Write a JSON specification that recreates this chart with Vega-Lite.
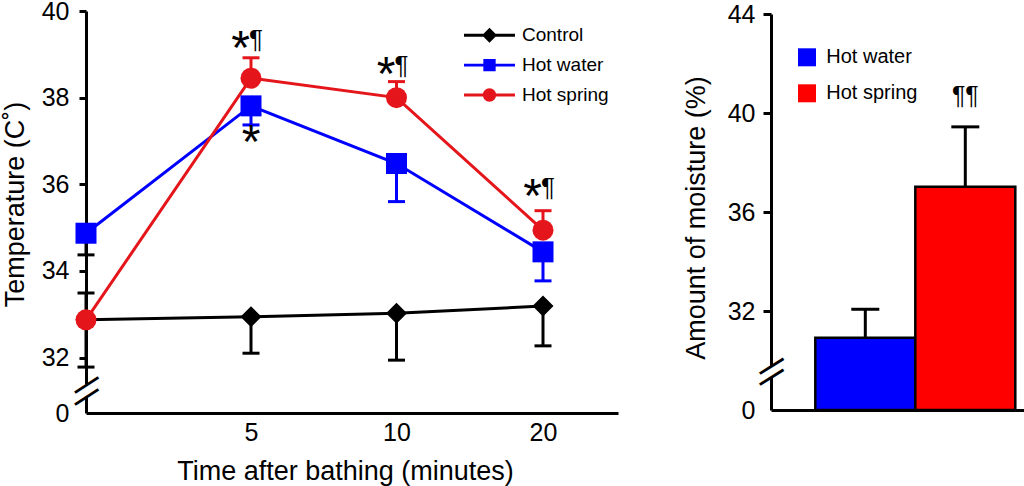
{
  "$schema": "https://vega.github.io/schema/vega-lite/v6.json",
  "autosize": {"type": "none"},
  "padding": {"left": 86, "top": 11, "right": 938, "bottom": 475},
  "background": "white",
  "datasets": {
    "temp": [
      {"group": "Control", "minute": 0, "temp": 32.87, "err": 31.78},
      {"group": "Control", "minute": 5, "temp": 32.94, "err": 32.10},
      {"group": "Control", "minute": 10, "temp": 33.02, "err": 31.94},
      {"group": "Control", "minute": 20, "temp": 33.19, "err": 32.27},
      {"group": "Hot water", "minute": 0, "temp": 34.87, "err": 34.37},
      {"group": "Hot water", "minute": 5, "temp": 37.81, "err": 37.37},
      {"group": "Hot water", "minute": 10, "temp": 36.48, "err": 35.60},
      {"group": "Hot water", "minute": 20, "temp": 34.44, "err": 33.77},
      {"group": "Hot spring", "minute": 0, "temp": 32.87, "err": 33.49},
      {"group": "Hot spring", "minute": 5, "temp": 38.45, "err": 38.92},
      {"group": "Hot spring", "minute": 10, "temp": 38.00, "err": 38.37},
      {"group": "Hot spring", "minute": 20, "temp": 34.94, "err": 35.39}
    ],
    "temp_notes": [
      {"minute": 5, "temp": 39.63, "star": "*", "para": "¶"},
      {"minute": 10, "temp": 39.02, "star": "*", "para": "¶"},
      {"minute": 20, "temp": 36.21, "star": "*", "para": "¶"},
      {"minute": 5, "temp": 37.45, "star": "*", "para": null}
    ],
    "moisture": [
      {"group": "Hot water", "moist": 30.92, "err": 32.07},
      {"group": "Hot spring", "moist": 37.02, "err": 39.44}
    ],
    "moisture_notes": [
      {"group": "Hot spring", "moist": 41.17, "label": "¶¶"}
    ]
  },
  "config": {
    "font": "Liberation Sans",
    "view": {"stroke": null},
    "axis": {
      "grid": false,
      "domainColor": "black",
      "domainWidth": 3,
      "tickColor": "black",
      "tickWidth": 3,
      "labelColor": "black",
      "titleColor": "black",
      "titleFontWeight": "normal",
      "labelFontSize": 25,
      "titleFontSize": 27
    },
    "legend": {"labelColor": "black", "padding": 0}
  },
  "resolve": {
    "scale": {"color": "independent", "shape": "independent", "stroke": "independent", "fill": "independent"},
    "legend": {"color": "independent"}
  },
  "hconcat": [
    {
      "width": 532,
      "height": 402,
      "encoding": {
        "x": {
          "field": "minute",
          "type": "quantitative",
          "scale": {"domain": [0, 5, 10, 20, 25.12], "range": [0, 165, 310.5, 457, 532], "nice": false, "zero": false},
          "axis": {
            "values": [5, 10, 20],
            "ticks": false,
            "tickSize": 0,
            "labelPadding": 7,
            "labelFlush": false,
            "title": "Time after bathing (minutes)",
            "titlePadding": 13,
            "titleX": 259
          }
        },
        "y": {
          "field": "temp",
          "type": "quantitative",
          "scale": {"domain": [30.72, 40], "nice": false, "zero": false},
          "axis": {
            "title": "Temperature (C˚)",
            "values": [30.72, 31.106, 31.385, 32, 34, 36, 38, 40],
            "labelExpr": "datum.value < 31 ? '0' : datum.value < 31.5 ? '—' : datum.label",
            "labelOverlap": false,
            "labelBaseline": "middle",
            "labelFontSize": {"condition": {"test": "datum.value > 31 && datum.value < 31.5", "value": 28}, "value": 25},
            "labelFontWeight": {"condition": {"test": "datum.value > 31 && datum.value < 31.5", "value": "bold"}, "value": "normal"},
            "labelAlign": {"condition": {"test": "datum.value > 31 && datum.value < 31.5", "value": "center"}, "value": "right"},
            "labelPadding": {"condition": {"test": "datum.value > 31 && datum.value < 31.5", "value": -7}, "value": 10},
            "labelAngle": {"expr": "datum.value > 31 && datum.value < 31.5 ? -33 : 0"},
            "tickSize": 7,
            "tickOpacity": {"condition": {"test": "datum.value < 31.5", "value": 0}, "value": 1},
            "domainDash": [17, 12, 1000],
            "titlePadding": 12,
            "titleY": 193
          }
        }
      },
      "layer": [
        {
          "data": {"name": "temp"},
          "mark": {"type": "line", "strokeWidth": 3},
          "encoding": {
            "stroke": {
              "field": "group",
              "type": "nominal",
              "scale": {"domain": ["Hot water", "Hot spring", "Control"], "range": ["#0000ff", "#e4161b", "#000000"]},
              "legend": null
            },
            "order": {"field": "minute", "type": "quantitative"}
          }
        },
        {
          "data": {"name": "temp"},
          "mark": {"type": "rule", "strokeWidth": 3},
          "encoding": {
            "y2": {"field": "err"},
            "stroke": {
              "condition": {"test": "datum.minute == 0", "value": "black"},
              "field": "group",
              "type": "nominal",
              "legend": null
            }
          }
        },
        {
          "data": {"name": "temp"},
          "mark": {"type": "tick", "orient": "horizontal", "size": 17, "thickness": 3, "opacity": 1},
          "encoding": {
            "y": {"field": "err", "type": "quantitative", "scale": {"domain": [30.72, 40], "nice": false, "zero": false}},
            "fill": {
              "condition": {"test": "datum.minute == 0", "value": "black"},
              "field": "group",
              "type": "nominal",
              "scale": {"domain": ["Hot spring", "Hot water", "Control"], "range": ["#e4161b", "#0000ff", "#000000"]},
              "legend": null
            }
          }
        },
        {
          "data": {"name": "temp"},
          "mark": {"type": "point", "filled": true, "size": 441, "opacity": 1},
          "encoding": {
            "shape": {
              "field": "group",
              "type": "nominal",
              "scale": {"domain": ["Hot spring", "Control", "Hot water"], "range": ["circle", "diamond", "square"]},
              "legend": null
            },
            "color": {
              "field": "group",
              "type": "nominal",
              "scale": {"domain": ["Control", "Hot water", "Hot spring"], "range": ["#000000", "#0000ff", "#e4161b"]},
              "legend": {
                "title": null,
                "orient": "none",
                "legendX": 394,
                "legendY": 14.7,
                "symbolSize": 196,
                "symbolStrokeWidth": 0,
                "symbolType": {"expr": "datum.value == 'Control' ? 'M-3.64,-0.21L3.64,-0.21L3.64,0.21L-3.64,0.21ZM-1.07,0L0,-1.07L1.07,0L0,1.07Z' : datum.value == 'Hot water' ? 'M-3.64,-0.21L3.64,-0.21L3.64,0.21L-3.64,0.21ZM-0.88,-0.88L0.88,-0.88L0.88,0.88L-0.88,0.88Z' : 'M-3.64,-0.21L3.64,-0.21L3.64,0.21L-3.64,0.21ZM-0.95,0A0.95,0.95,0,1,1,0.95,0A0.95,0.95,0,1,1,-0.95,0Z'"},
                "labelFontSize": 19,
                "labelOffset": 23,
                "rowPadding": 9.9
              }
            }
          }
        },
        {
          "data": {"name": "temp_notes"},
          "transform": [{"filter": "datum.para != null"}],
          "mark": {"type": "text", "fontSize": 48, "align": "right", "baseline": "top", "dx": -1, "dy": -1, "color": "black"},
          "encoding": {"text": {"field": "star"}}
        },
        {
          "data": {"name": "temp_notes"},
          "transform": [{"filter": "datum.para != null"}],
          "mark": {"type": "text", "fontSize": 26, "align": "left", "baseline": "top", "dx": -2, "dy": 0, "color": "black"},
          "encoding": {"text": {"field": "para"}}
        },
        {
          "data": {"name": "temp_notes"},
          "transform": [{"filter": "datum.para == null"}],
          "mark": {"type": "text", "fontSize": 48, "align": "center", "baseline": "top", "dy": -1, "color": "black"},
          "encoding": {"text": {"field": "star"}}
        }
      ]
    },
    {
      "width": 253,
      "height": 396,
      "encoding": {
        "x": {
          "field": "group",
          "type": "nominal",
          "sort": null,
          "scale": {"domain": ["Hot water", "Hot spring"], "paddingInner": 0, "paddingOuter": 0.265, "align": 0.836},
          "axis": {"labels": false, "ticks": false, "title": null}
        },
        "y": {
          "field": "moist",
          "type": "quantitative",
          "scale": {"domain": [28, 44], "nice": false, "zero": false},
          "axis": {
            "title": "Amount of moisture (%)",
            "values": [28, 29.36, 29.81, 32, 36, 40, 44],
            "labelExpr": "datum.value < 29 ? '0' : datum.value < 30 ? '—' : datum.label",
            "labelOverlap": false,
            "labelBaseline": "middle",
            "labelFontSize": {"condition": {"test": "datum.value > 29 && datum.value < 30", "value": 28}, "value": 25},
            "labelFontWeight": {"condition": {"test": "datum.value > 29 && datum.value < 30", "value": "bold"}, "value": "normal"},
            "labelAlign": {"condition": {"test": "datum.value > 29 && datum.value < 30", "value": "center"}, "value": "right"},
            "labelPadding": {"condition": {"test": "datum.value > 29 && datum.value < 30", "value": -8}, "value": 8},
            "labelAngle": {"expr": "datum.value > 29 && datum.value < 30 ? -32 : 0"},
            "tickSize": 8,
            "tickOpacity": {"condition": {"test": "datum.value < 30", "value": 0}, "value": 1},
            "domainDash": [33, 11, 1000],
            "titlePadding": 17,
            "titleY": 203.5
          }
        }
      },
      "layer": [
        {
          "data": {"name": "moisture"},
          "mark": {"type": "bar", "stroke": "black", "strokeWidth": 2.5, "opacity": 1},
          "encoding": {
            "y2": {"datum": 28},
            "color": {
              "field": "group",
              "type": "nominal",
              "scale": {"domain": ["Hot water", "Hot spring"], "range": ["#0000ff", "#ff0000"]},
              "legend": {
                "title": null,
                "orient": "none",
                "legendX": 26,
                "legendY": 33.3,
                "symbolType": "square",
                "symbolSize": 324,
                "symbolStrokeWidth": 0,
                "labelFontSize": 20,
                "labelOffset": 9.3,
                "rowPadding": 16
              }
            }
          }
        },
        {
          "data": {"name": "moisture"},
          "mark": {"type": "rule", "strokeWidth": 3, "color": "black"},
          "encoding": {"y2": {"field": "err"}}
        },
        {
          "data": {"name": "moisture"},
          "mark": {"type": "tick", "orient": "horizontal", "size": 28, "thickness": 3, "color": "black", "opacity": 1},
          "encoding": {
            "y": {"field": "err", "type": "quantitative", "scale": {"domain": [28, 44], "nice": false, "zero": false}}
          }
        },
        {
          "data": {"name": "moisture_notes"},
          "mark": {"type": "text", "fontSize": 25, "align": "center", "baseline": "top", "color": "black"},
          "encoding": {"text": {"field": "label"}}
        }
      ]
    }
  ],
  "spacing": 153,
  "bounds": "flush",
  "center": true
}
